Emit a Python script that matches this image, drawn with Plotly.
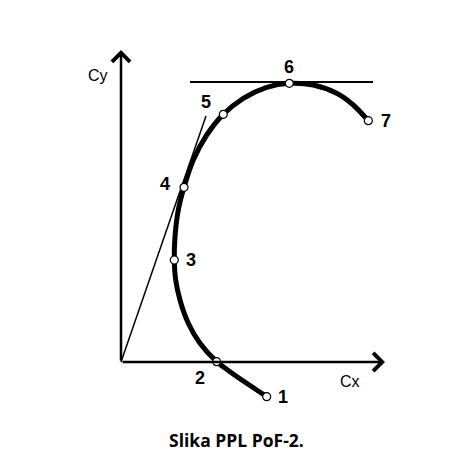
import plotly.graph_objects as go

# Polar curve (Cx, Cy) sampled along the drawn line
curve_cx = [1.457, 1.257, 1.09, 0.957, 0.79, 0.673, 0.59, 0.547, 0.533, 0.54, 0.573, 0.63,
            0.723, 0.857, 1.023, 1.223, 1.457, 1.683, 1.923, 2.157, 2.323, 2.473]
curve_cy = [-0.347, -0.213, -0.097, 0.003, 0.187, 0.387, 0.62, 0.82, 1.02, 1.253, 1.52, 1.747,
            2.02, 2.27, 2.477, 2.637, 2.747, 2.787, 2.77, 2.687, 2.57, 2.413]

# Marked points 1..7
point_labels = ["1", "2", "3", "4", "5", "6", "7"]
point_cx = [1.457, 0.957, 0.533, 0.63, 1.023, 1.683, 2.473]
point_cy = [-0.347, 0.003, 1.02, 1.747, 2.477, 2.787, 2.413]

# Tangent from origin and horizontal tangent at max Cy
tangent_cx = [0.0, 0.85]
tangent_cy = [0.0, 2.46]
hline_cx = [0.69, 2.52]
hline_cy = [2.80, 2.80]

axis_x_end = 2.64
axis_y_end = 3.12

caption = "<b>Slika PPL PoF-2.</b>"

fig = go.Figure()

fig.add_trace(go.Scatter(x=tangent_cx, y=tangent_cy, mode="lines",
                         line=dict(color="black", width=1.5), hoverinfo="skip"))
fig.add_trace(go.Scatter(x=hline_cx, y=hline_cy, mode="lines",
                         line=dict(color="black", width=2.2), hoverinfo="skip"))
fig.add_trace(go.Scatter(x=curve_cx, y=curve_cy, mode="lines",
                         line=dict(color="black", width=5, shape="spline", smoothing=0.8),
                         hoverinfo="skip"))
fig.add_trace(go.Scatter(x=point_cx, y=point_cy, mode="markers",
                         marker=dict(size=8, color="white", line=dict(color="black", width=1.2)),
                         hoverinfo="skip"))

annotations = []
# axes with arrows
annotations.append(dict(x=axis_x_end, y=0, ax=0, ay=0, xref="x", yref="y", axref="x", ayref="y",
                        showarrow=True, arrowhead=4, arrowsize=1.4, arrowwidth=2.5,
                        arrowcolor="black", text=""))
annotations.append(dict(x=0, y=axis_y_end, ax=0, ay=0, xref="x", yref="y", axref="x", ayref="y",
                        showarrow=True, arrowhead=4, arrowsize=1.4, arrowwidth=2.5,
                        arrowcolor="black", text=""))

offsets = [(16, 0), (-17, -16), (17, 0), (-19, 3), (-17, 12), (0, 16), (18, 0)]
for lab, x, y, (dx, dy) in zip(point_labels, point_cx, point_cy, offsets):
    annotations.append(dict(x=x, y=y, xref="x", yref="y", text="<b>" + lab + "</b>",
                            showarrow=False, xshift=dx, yshift=dy,
                            font=dict(family="Liberation Sans, Arial", size=18, color="black")))

annotations.append(dict(x=0, y=axis_y_end, xref="x", yref="y", text="Cy", showarrow=False,
                        xshift=-23, yshift=-25,
                        font=dict(family="Liberation Sans, Arial", size=16, color="black")))
annotations.append(dict(x=axis_x_end, y=0, xref="x", yref="y", text="Cx", showarrow=False,
                        xshift=-35, yshift=-19,
                        font=dict(family="Liberation Sans, Arial", size=16, color="black")))

W, H = 441, 468
annotations.append(dict(x=(237 - 8) / W, y=1 - (440 - 8) / H, xref="paper", yref="paper",
                        text=caption, showarrow=False, xanchor="center", yanchor="middle",
                        font=dict(family="Open Sans, Noto Sans", size=17.5, color="black")))

fig.update_layout(
    width=W, height=H,
    margin=dict(l=0, r=0, t=0, b=0),
    paper_bgcolor="white", plot_bgcolor="white",
    showlegend=False,
    xaxis=dict(range=[-1.13, 3.28], visible=False, fixedrange=True),
    yaxis=dict(range=[-1.14, 3.54], visible=False, fixedrange=True),
    annotations=annotations,
)

fig.write_html("out.html")
